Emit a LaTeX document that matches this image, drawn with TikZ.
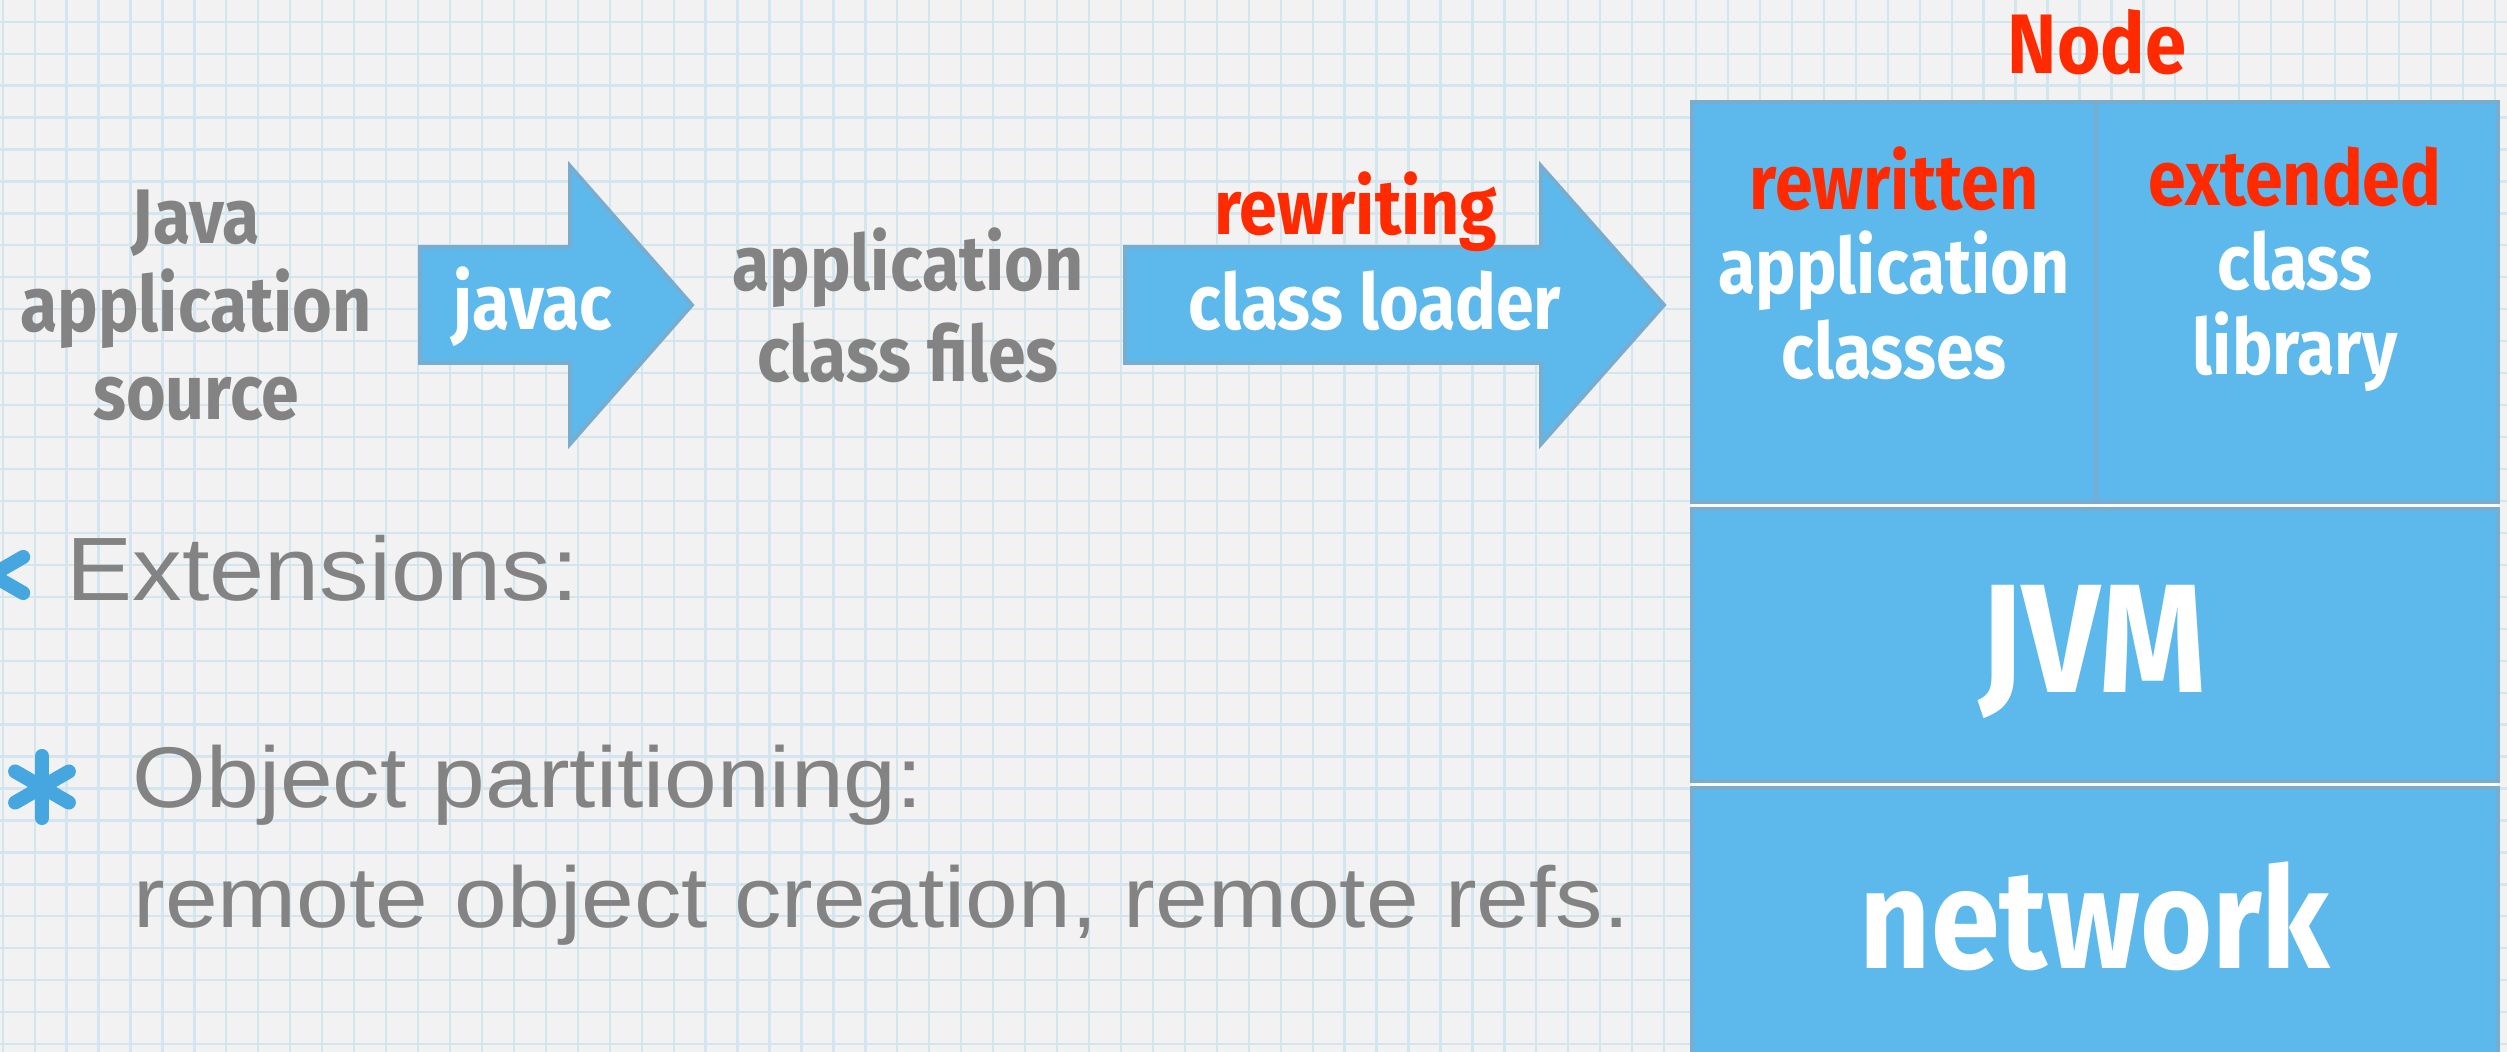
\documentclass[tikz,border=0pt]{standalone}
\usepackage{fontspec}
\usepackage{tikz}
\newfontfamily\markerfont[FakeStretch=0.88]{Fira Sans}
\newfontfamily\handfont[FakeStretch=1.1]{Liberation Sans}
\definecolor{paperBg}{HTML}{F2F2F2}
\definecolor{gridBlue}{HTML}{D3E5EE}
\definecolor{boxBlue}{HTML}{5DB9EC}
\definecolor{boxEdge}{HTML}{77ADD0}
\definecolor{inkGray}{HTML}{838383}
\definecolor{alertRed}{HTML}{FF2A00}
\definecolor{bulletBlue}{HTML}{45A6E0}
\newcommand\paperW{2507}
\newcommand\paperH{1052}
\newcommand\gridStep{31.95}
\newcommand\arrowMid{305}
\newcommand\shaftHalf{58}
\newcommand\headHalf{139}
\newcommand\stackL{1692}
\newcommand\stackR{2498}
\newcommand{\blockArrowPath}[3]{
    (#1,\arrowMid - \shaftHalf) -- (#2,\arrowMid - \shaftHalf)
    -- (#2,\arrowMid - \headHalf) -- (#3,\arrowMid)
    -- (#2,\arrowMid + \headHalf) -- (#2,\arrowMid + \shaftHalf)
    -- (#1,\arrowMid + \shaftHalf) -- cycle
}
\newcommand{\bulletMark}[3]{
    \foreach \ang in {90,30,-30}
        \draw[bulletmark] ({#1 + #3*cos(\ang)},{#2 - #3*sin(\ang)}) -- ({#1 - #3*cos(\ang)},{#2 + #3*sin(\ang)});
}
\tikzset{
    graylabel/.style={font=\markerfont\bfseries\fontsize{22}{25}\selectfont, text=inkGray, align=center, inner sep=0pt},
    whitelabel/.style={font=\markerfont\bfseries\fontsize{22}{24}\selectfont, text=white, align=center, inner sep=0pt},
    handtext/.style={font=\handfont\fontsize{24.5}{28}\selectfont, text=inkGray, inner sep=0pt, anchor=base west},
    layerbox/.style={fill=boxBlue, draw=boxEdge, line width=1.1pt},
    blockarrow/.style={fill=boxBlue, draw=boxEdge, line width=1.1pt, line join=miter},
    bulletmark/.style={draw=bulletBlue, line width=4pt, line cap=round}
}

\begin{document}
\begin{tikzpicture}[x=0.01cm, y=-0.01cm]
    \useasboundingbox (0,0) rectangle (\paperW,\paperH);
    % squared paper
    \fill[paperBg] (0,0) rectangle (\paperW,\paperH);
    \foreach \i in {0,...,78}
        \draw[gridBlue, line width=0.65pt] ({2.7 + \i*\gridStep},0) -- ({2.7 + \i*\gridStep},\paperH);
    \foreach \j in {0,...,32}
        \draw[gridBlue, line width=0.65pt] (0,{21.7 + \j*\gridStep}) -- (\paperW,{21.7 + \j*\gridStep});

    % compile and load pipeline
    \path[blockarrow] \blockArrowPath{420}{570}{692};
    \path[blockarrow] \blockArrowPath{1125}{1541}{1664};

    \node[graylabel, anchor=north] (javaSrc) at (196,189) {Java\\application\\source};
    \node[whitelabel, anchor=base] (javac) at (533,330) {javac};
    \node[graylabel, anchor=north, font=\markerfont\bfseries\fontsize{22}{26}\selectfont] (classFiles) at (908,227) {application\\class files};
    \node[graylabel, anchor=base, text=alertRed] (rewriting) at (1356,235) {rewriting};
    \node[whitelabel, anchor=base] (classLoader) at (1375,330) {class loader};

    % the node stack
    \node[anchor=base, inner sep=0pt, text=alertRed, font=\markerfont\bfseries\fontsize{24}{28}\selectfont] (nodeTitle) at (2097,74) {Node};
    \fill[white] (\stackL,498) rectangle (\stackR,513);
    \fill[white] (\stackL,777) rectangle (\stackR,792);
    \draw[layerbox] (\stackL,102) rectangle (\stackR,502);
    \draw[boxEdge, line width=0.9pt] (2096,102) -- (2096,502);
    \draw[layerbox] (\stackL,509) rectangle (\stackR,781);
    \draw[layerbox] (\stackL,788) rectangle (\stackR,1070);

    \node[whitelabel, anchor=north] (appClasses) at (1894,146) {\textcolor{alertRed}{rewritten}\\application\\classes};
    \node[whitelabel, anchor=north] (classLib) at (2295,146) {\textcolor{alertRed}{extended}\\class\\library};
    \node[whitelabel, anchor=base, font=\markerfont\bfseries\fontsize{44}{48}\selectfont] (jvm) at (2093,692) {JVM};
    \node[whitelabel, anchor=base, font=\markerfont\bfseries\fontsize{40}{44}\selectfont] (network) at (2095,968) {network};

    % bullet list
    \bulletMark{-8}{575}{36}
    \node[handtext, font=\handfont\fontsize{25.6}{30}\selectfont] (extensions) at (66,600) {Extensions:};
    \bulletMark{42}{787}{31}
    \node[handtext] (objPart) at (132,807) {Object partitioning:};
    \node[handtext] (remoteRefs) at (133,927) {remote object creation, remote refs.};
\end{tikzpicture}
\end{document}
